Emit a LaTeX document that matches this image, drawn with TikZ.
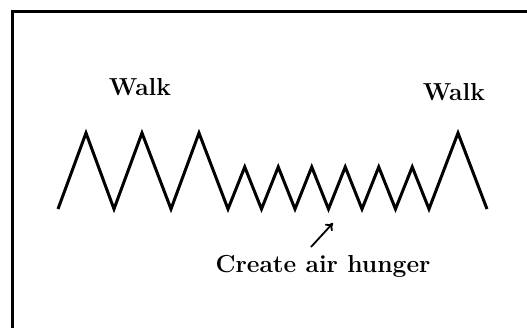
\documentclass[tikz,border=0pt]{standalone}
\usetikzlibrary{arrows.meta}
\begin{document}
\begin{tikzpicture}[x=0.5pt,y=-0.5pt,
  wave/.style={line width=1.5pt,line join=miter,black},
  lbl/.style={font=\fontsize{12.3}{14}\selectfont\bfseries,inner sep=0pt},
  arr/.style={-{To[length=3.5pt,width=5pt]},line width=0.9pt}]
\useasboundingbox (0,0) rectangle (527,328);
\draw[line width=1.5pt] (13,11) rectangle (560,360);
% breathing pattern
\draw[wave] (58,209) -- (86,133) -- (114,209) -- (142,133) -- (171,209) -- (199,133) -- (228,209)
  \foreach \i in {0,...,5} {-- ({244.75+33.5*\i},167) -- ({261.5+33.5*\i},209)}
  -- (458,133) -- (487,209);
\node[lbl] (walkL) at (140,87) {Walk};
\node[lbl] (walkR) at (454,92) {Walk};
\node[lbl] (hunger) at (323,266) {Create air hunger};
\coordinate (tail) at (311,247);
\coordinate (tip) at (333,223);
\draw[arr] (tail) -- (tip);
\end{tikzpicture}
\end{document}
